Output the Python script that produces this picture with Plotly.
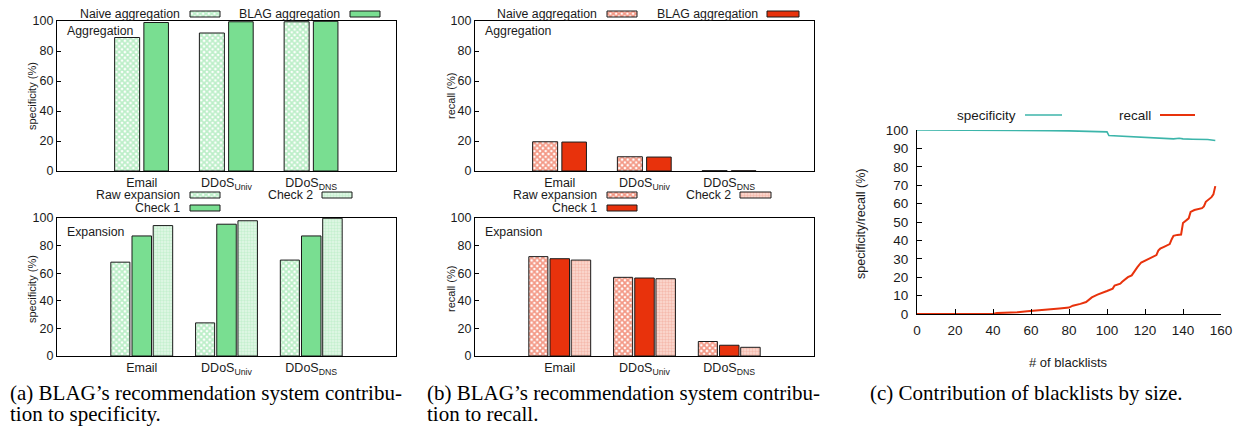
import plotly.graph_objects as go

W, H = 1245, 435
OFF = 8  # the html page places the figure 8 px in from the top-left corner
FW, FH = W - OFF, H - OFF

# ---------------- data ----------------
categories = ["Email", "DDoS<sub>Univ</sub>", "DDoS<sub>DNS</sub>"]

spec_naive = [89, 92, 99.5]
spec_blag = [99, 99.5, 99.8]
spec_raw = [68, 24, 69.5]
spec_check1 = [87, 95.5, 87]
spec_check2 = [94.5, 98, 99.8]

rec_naive = [19.5, 9.5, 0.2]
rec_blag = [19.3, 9.3, 0.15]
rec_raw = [72, 57, 10.5]
rec_check1 = [70.5, 56.5, 7.8]
rec_check2 = [69.5, 56, 6.3]

bl_x_spec = [0, 20, 40, 60, 70, 80, 90, 95, 100, 101, 105, 110, 115, 120, 125, 130, 135, 138, 140, 145, 150, 153, 155, 157]
bl_spec = [100, 100, 100, 99.8, 99.6, 99.5, 99.3, 99.2, 99.0, 97.0, 96.8, 96.6, 96.3, 96.0, 95.8, 95.5, 95.2, 95.5, 95.2, 95.0, 95.1, 94.8, 94.6, 94.3]

bl_x_rec = [0, 20, 40, 42, 50, 53, 58, 65, 72, 75, 80, 82, 86, 89, 92, 95, 100, 102, 103, 104, 107, 108, 110, 111, 113, 115, 116, 118, 120, 123, 126, 127, 128, 130, 133, 134, 135, 137, 139, 140, 142, 143, 144, 146, 150, 151, 152, 154, 155, 156, 157]
bl_rec = [0, 0, 0, 0.5, 0.6, 1.0, 1.5, 2.0, 2.5, 3.0, 3.5, 4.5, 5.5, 6.5, 9.0, 10.5, 12.5, 13.2, 13.8, 15.5, 16.5, 17.5, 19.5, 20.0, 21.0, 24.5, 25.5, 28.0, 29.0, 30.2, 32.0, 34.5, 35.5, 36.5, 38.0, 40.5, 42.5, 43.0, 43.2, 49.5, 51.0, 52.0, 55.5, 56.5, 57.5, 58.5, 61.0, 62.5, 63.5, 65.0, 69.5]

# ---------------- styles ----------------
GREEN = "#79de91"
RED = "#e8320c"
TEAL = "#3cb5aa"
EDGE = "#1a1a1a"
TXT = "#1a1a1a"
SANS = "Liberation Sans, Arial, sans-serif"
SERIF = "Liberation Serif, Times New Roman, serif"


def pat_check(c):
    return dict(shape="x", fgcolor=c, bgcolor="white", size=4, solidity=0.7)


def pat_fine(c, bg):
    return dict(shape=".", fgcolor=c, bgcolor=bg, size=3, solidity=0.5)


G_NAIVE = pat_check(GREEN)
G_C2 = pat_fine("#a5e7b5", "#e4f8e8")
R_NAIVE = pat_check(RED)
R_C2 = pat_fine("#f09a86", "#fbdcd4")


def px_x(p):
    return (p - OFF) / FW


def px_y(p):
    return 1 - (p - OFF) / FH


fig = go.Figure()

panels = {
    "": (57, 396, 21, 171),
    "2": (57, 396, 218, 356),
    "3": (475, 814, 21, 171),
    "4": (475, 814, 218, 356),
}

cat_idx = list(range(len(categories)))


def add_bars(ax, ys, offset, width, solid=None, pattern=None):
    kw = dict(
        x=cat_idx, y=ys, offset=offset, width=width,
        xaxis="x" + ax, yaxis="y" + ax, showlegend=False, hoverinfo="skip",
    )
    if pattern is not None:
        marker = dict(color=pattern["bgcolor"], pattern=pattern, line=dict(color=EDGE, width=1))
    else:
        marker = dict(color=solid, line=dict(color=EDGE, width=1))
    fig.add_trace(go.Bar(marker=marker, **kw))


add_bars("", spec_naive, -0.32, 0.295, pattern=G_NAIVE)
add_bars("", spec_blag, 0.025, 0.29, solid=GREEN)
add_bars("2", spec_raw, -0.365, 0.225, pattern=G_NAIVE)
add_bars("2", spec_check1, -0.115, 0.23, solid=GREEN)
add_bars("2", spec_check2, 0.135, 0.23, pattern=G_C2)
add_bars("3", rec_naive, -0.32, 0.295, pattern=R_NAIVE)
add_bars("3", rec_blag, 0.025, 0.29, solid=RED)
add_bars("4", rec_raw, -0.365, 0.225, pattern=R_NAIVE)
add_bars("4", rec_check1, -0.115, 0.23, solid=RED)
add_bars("4", rec_check2, 0.135, 0.23, pattern=R_C2)

fig.add_trace(go.Scatter(x=bl_x_spec, y=bl_spec, mode="lines", line=dict(color=TEAL, width=1.6),
                         xaxis="x5", yaxis="y5", showlegend=False, hoverinfo="skip"))
fig.add_trace(go.Scatter(x=bl_x_rec, y=bl_rec, mode="lines", line=dict(color=RED, width=2),
                         xaxis="x5", yaxis="y5", showlegend=False, hoverinfo="skip"))

layout = dict(
    width=FW, height=FH, margin=dict(l=0, r=0, t=0, b=0, pad=0), autosize=False,
    paper_bgcolor="white", plot_bgcolor="rgba(0,0,0,0)",
    font=dict(family=SANS, size=12.5, color=TXT),
    barmode="overlay", showlegend=False,
)

for suf, (x0, x1, yt, yb) in panels.items():
    layout["xaxis" + suf] = dict(
        domain=[px_x(x0), px_x(x1)], range=[-1, 3], automargin=False,
        anchor="y" + suf, tickvals=cat_idx, ticktext=categories,
        ticks="", showline=True, mirror=True, linecolor="black", linewidth=1.2,
        showgrid=False, zeroline=False, tickfont=dict(size=12.5), fixedrange=True,
    )
    layout["yaxis" + suf] = dict(
        domain=[px_y(yb), px_y(yt)], range=[0, 100], automargin=False,
        anchor="x" + suf, tickvals=[0, 20, 40, 60, 80, 100],
        ticks="inside", ticklen=4, tickcolor="black",
        showline=True, mirror=True, linecolor="black", linewidth=1.2,
        showgrid=False, zeroline=False, tickfont=dict(size=12.5), fixedrange=True,
    )

layout["xaxis5"] = dict(
    domain=[px_x(917), px_x(1221)], range=[0, 160], anchor="y5", automargin=False,
    tickvals=[0, 20, 40, 60, 80, 100, 120, 140, 160],
    ticks="inside", ticklen=5, tickcolor="black",
    showline=True, linecolor="black", linewidth=1.2, mirror=False,
    showgrid=False, zeroline=False, tickfont=dict(size=13.5), ticklabelstandoff=4,
)
layout["yaxis5"] = dict(
    domain=[px_y(314), px_y(130)], range=[0, 100], anchor="x5", automargin=False,
    tickvals=list(range(0, 101, 10)),
    ticks="inside", ticklen=5, tickcolor="black",
    showline=True, linecolor="black", linewidth=1.2, mirror=False,
    showgrid=False, zeroline=False, tickfont=dict(size=13.5), ticklabelstandoff=5,
)
# overlay axis in reference-pixel units (for legend swatches)
layout["xaxis6"] = dict(domain=[0, 1], range=[OFF, W], visible=False, anchor="y6",
                        fixedrange=True, automargin=False)
layout["yaxis6"] = dict(domain=[0, 1], range=[H, OFF], visible=False, anchor="x6",
                        fixedrange=True, automargin=False)

fig.update_layout(**layout)

annotations = []
shapes = []


def text(x, y, s, size=12.3, xanchor="right", family=SANS, angle=0):
    annotations.append(dict(
        x=px_x(x), y=px_y(y), xref="paper", yref="paper", text=s, showarrow=False,
        xanchor=xanchor, yanchor="middle", textangle=angle,
        font=dict(family=family, size=size, color=TXT if family == SANS else "black"),
    ))


def swatch(x0, x1, yc, solid=None, pattern=None):
    xs = [x0, x1, x1, x0, x0]
    ys = [yc - 3, yc - 3, yc + 3, yc + 3, yc - 3]
    kw = dict(x=xs, y=ys, mode="lines", fill="toself", line=dict(color=EDGE, width=1),
              xaxis="x6", yaxis="y6", showlegend=False, hoverinfo="skip")
    if pattern is not None:
        kw["fillcolor"] = pattern["bgcolor"]
        kw["fillpattern"] = pattern
    else:
        kw["fillcolor"] = solid
    fig.add_trace(go.Scatter(**kw))


TOP = 14
text(182, TOP, "Naive aggregation"); swatch(190, 220, TOP, pattern=G_NAIVE)
text(342, TOP, "BLAG aggregation"); swatch(350, 380, TOP, solid=GREEN)
text(182, 195, "Raw expansion"); swatch(190, 220, 195, pattern=G_NAIVE)
text(182, 208, "Check 1"); swatch(190, 220, 208, solid=GREEN)
text(315, 195, "Check 2"); swatch(322, 352, 195, pattern=G_C2)
text(599, TOP, "Naive aggregation"); swatch(607, 637, TOP, pattern=R_NAIVE)
text(760, TOP, "BLAG aggregation"); swatch(767, 799, TOP, solid=RED)
text(599, 195, "Raw expansion"); swatch(607, 637, 195, pattern=R_NAIVE)
text(599, 208, "Check 1"); swatch(607, 637, 208, solid=RED)
text(733, 195, "Check 2"); swatch(740, 771, 195, pattern=R_C2)

text(65, 31, "Aggregation", xanchor="left")
text(65, 232, "Expansion", xanchor="left")
text(483, 31, "Aggregation", xanchor="left")
text(483, 232, "Expansion", xanchor="left")

text(32, 96, "specificity (%)", size=11, xanchor="center", angle=-90)
text(32, 289, "specificity (%)", size=11, xanchor="center", angle=-90)
text(451, 96, "recall (%)", size=11, xanchor="center", angle=-90)
text(451, 289, "recall (%)", size=11, xanchor="center", angle=-90)

text(861, 224, "specificity/recall (%)", size=12.5, xanchor="center", angle=-90)
text(1068, 362, "# of blacklists", size=13, xanchor="center")
text(1018, 115, "specificity", size=13.5)
shapes.append(dict(type="line", xref="paper", yref="paper", x0=px_x(1025), x1=px_x(1062),
                   y0=px_y(115), y1=px_y(115), line=dict(color=TEAL, width=1.6)))
text(1153, 115, "recall", size=13.5)
shapes.append(dict(type="line", xref="paper", yref="paper", x0=px_x(1160), x1=px_x(1195),
                   y0=px_y(115), y1=px_y(115), line=dict(color=RED, width=2)))

CAP = 21
text(8, 393, "(a) BLAG’s recommendation system contribu-", size=CAP, xanchor="left", family=SERIF)
text(8, 414, "tion to specificity.", size=CAP, xanchor="left", family=SERIF)
text(425, 393, "(b) BLAG’s recommendation system contribu-", size=CAP, xanchor="left", family=SERIF)
text(425, 414, "tion to recall.", size=CAP, xanchor="left", family=SERIF)
text(868, 393, "(c) Contribution of blacklists by size.", size=CAP, xanchor="left", family=SERIF)

fig.update_layout(annotations=annotations, shapes=shapes)

fig.write_html("out.html")
